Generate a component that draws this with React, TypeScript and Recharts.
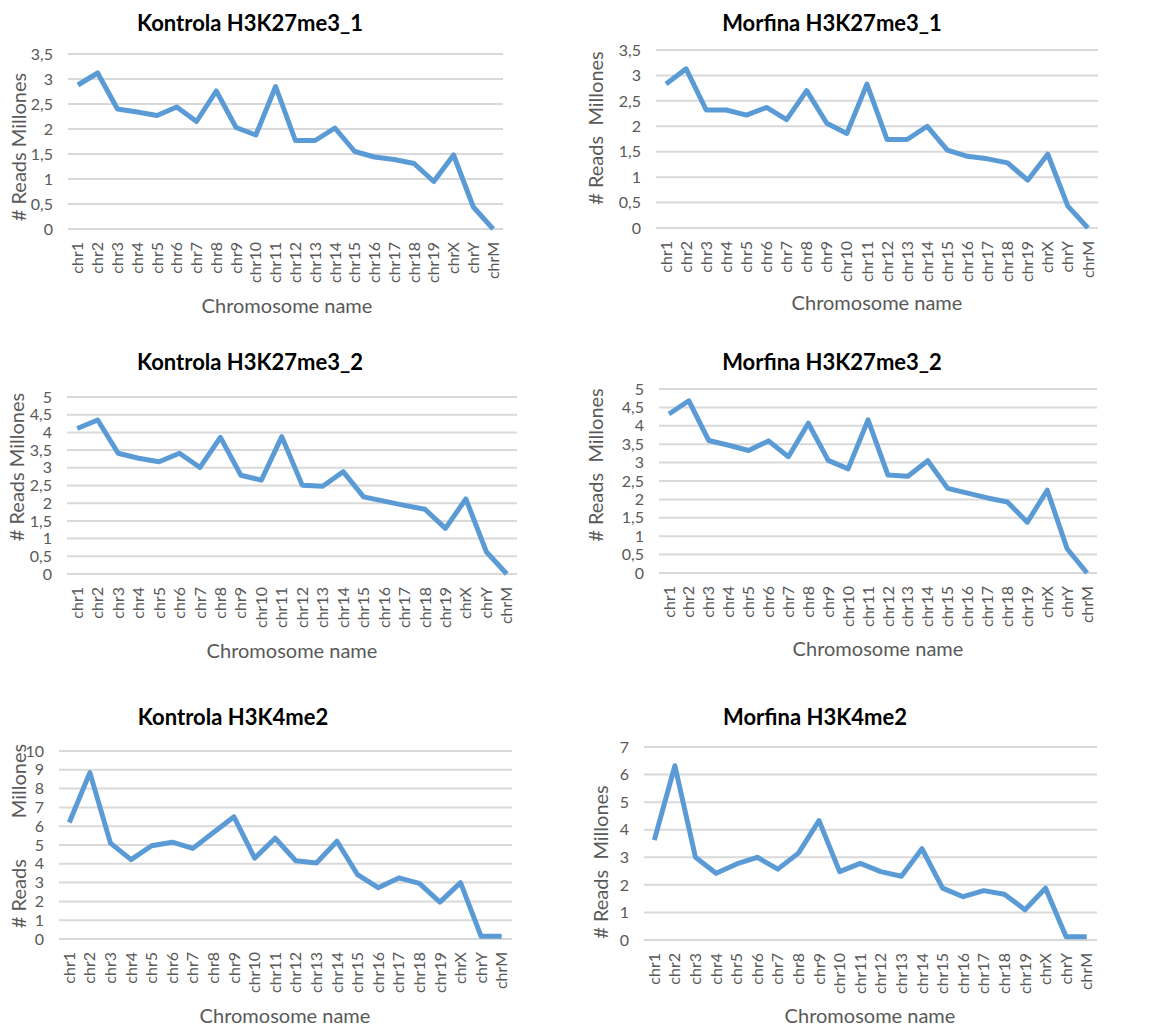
import { LineChart, Line, XAxis, YAxis, CartesianGrid } from "recharts";

const CHROMOSOMES = [
  "chr1", "chr2", "chr3", "chr4", "chr5", "chr6", "chr7", "chr8", "chr9", "chr10", "chr11",
  "chr12", "chr13", "chr14", "chr15", "chr16", "chr17", "chr18", "chr19", "chrX", "chrY", "chrM",
];

// millions of reads per chromosome
const KONTROLA_K27_1 = [
  2.88, 3.12, 2.4, 2.34, 2.27, 2.44, 2.15, 2.76, 2.03, 1.88, 2.85,
  1.77, 1.77, 2.02, 1.55, 1.44, 1.39, 1.31, 0.95, 1.48, 0.44, 0,
];
const MORFINA_K27_1 = [
  2.83, 3.13, 2.32, 2.32, 2.22, 2.37, 2.13, 2.7, 2.06, 1.86, 2.83,
  1.74, 1.74, 2.0, 1.53, 1.41, 1.36, 1.28, 0.94, 1.45, 0.43, 0,
];
const KONTROLA_K27_2 = [
  4.11, 4.35, 3.41, 3.27, 3.17, 3.41, 3.01, 3.86, 2.79, 2.65, 3.88,
  2.51, 2.48, 2.89, 2.18, 2.06, 1.94, 1.83, 1.29, 2.12, 0.63, 0,
];
const MORFINA_K27_2 = [
  4.32, 4.68, 3.6, 3.47, 3.33, 3.59, 3.16, 4.07, 3.06, 2.83, 4.16,
  2.66, 2.63, 3.05, 2.3, 2.17, 2.04, 1.93, 1.38, 2.25, 0.66, 0,
];
const KONTROLA_K4 = [
  6.2, 8.85, 5.1, 4.22, 4.96, 5.15, 4.82, 5.66, 6.5, 4.3, 5.36,
  4.16, 4.04, 5.2, 3.42, 2.73, 3.25, 2.96, 1.96, 3.0, 0.14, 0.14,
];
const MORFINA_K4 = [
  3.62, 6.32, 3.0, 2.42, 2.76, 3.0, 2.57, 3.15, 4.33, 2.48, 2.78,
  2.48, 2.31, 3.31, 1.88, 1.57, 1.79, 1.66, 1.1, 1.88, 0.12, 0.12,
];

const TICKS_3_5 = [0, 0.5, 1, 1.5, 2, 2.5, 3, 3.5];
const TICKS_5 = [0, 0.5, 1, 1.5, 2, 2.5, 3, 3.5, 4, 4.5, 5];
const TICKS_10 = [0, 1, 2, 3, 4, 5, 6, 7, 8, 9, 10];
const TICKS_7 = [0, 1, 2, 3, 4, 5, 6, 7];

const BLUE = "#5b9bd5";
const GRID = "#d9d9d9";
const GREY = "#595959";
const FONT = "Lato, 'Open Sans', sans-serif";

type Layout = {
  left: number;
  top: number;
  width: number;
  height: number;
  plot: [number, number, number, number]; // left, top, right, bottom
  title: [number, number];
  xTitle: [number, number];
  yTitle: [number, number];
};

type PanelProps = {
  title: string;
  yLabel: string;
  values: number[];
  ticks: number[];
  layout: Layout;
};

const PANELS: PanelProps[] = [
  {
    title: "Kontrola H3K27me3_1",
    yLabel: "# Reads Millones",
    values: KONTROLA_K27_1,
    ticks: TICKS_3_5,
    layout: {
      left: 0, top: 0, width: 575, height: 335,
      plot: [68, 54, 503, 229],
      title: [250, 23], xTitle: [287, 305], yTitle: [18, 147],
    },
  },
  {
    title: "Morfina H3K27me3_1",
    yLabel: "# Reads  Millones",
    values: MORFINA_K27_1,
    ticks: TICKS_3_5,
    layout: {
      left: 575, top: 0, width: 578, height: 335,
      plot: [656, 50, 1098, 228],
      title: [832, 23], xTitle: [877, 302], yTitle: [595, 128],
    },
  },
  {
    title: "Kontrola H3K27me3_2",
    yLabel: "# Reads Millones",
    values: KONTROLA_K27_2,
    ticks: TICKS_5,
    layout: {
      left: 0, top: 340, width: 575, height: 340,
      plot: [67, 397, 517, 574],
      title: [250, 362], xTitle: [292, 650], yTitle: [16, 467],
    },
  },
  {
    title: "Morfina H3K27me3_2",
    yLabel: "# Reads  Millones",
    values: MORFINA_K27_2,
    ticks: TICKS_5,
    layout: {
      left: 575, top: 340, width: 578, height: 340,
      plot: [659, 389, 1097, 573],
      title: [832, 362], xTitle: [878, 648], yTitle: [595, 465],
    },
  },
  {
    title: "Kontrola H3K4me2",
    yLabel: "# Reads        Millones",
    values: KONTROLA_K4,
    ticks: TICKS_10,
    layout: {
      left: 0, top: 690, width: 575, height: 335,
      plot: [59, 751, 512, 939],
      title: [233, 717], xTitle: [285, 1015], yTitle: [18, 836],
    },
  },
  {
    title: "Morfina H3K4me2",
    yLabel: "# Reads  Millones",
    values: MORFINA_K4,
    ticks: TICKS_7,
    layout: {
      left: 575, top: 690, width: 578, height: 335,
      plot: [644, 747, 1097, 940],
      title: [815, 717], xTitle: [870, 1015], yTitle: [600, 862],
    },
  },
];

function ChrTick({ x, y, payload }: { x?: number; y?: number; payload?: { value: string } }) {
  const tx = x ?? 0;
  const ty = (y ?? 0) + 13;
  return (
    <text
      x={tx}
      y={ty}
      dy="0.35em"
      transform={`rotate(-90 ${tx} ${ty})`}
      textAnchor="end"
      fill={GREY}
      fontSize={16}
      fontFamily={FONT}
    >
      {payload?.value}
    </text>
  );
}

function Panel({ title, yLabel, values, ticks, layout }: PanelProps) {
  const data = CHROMOSOMES.map((name, i) => ({ name, value: values[i] }));
  const [pl, pt, pr, pb] = layout.plot;
  const band = (pr - pl) / CHROMOSOMES.length;

  return (
    <>
      <div style={{ position: "absolute", left: layout.left, top: layout.top }}>
        <LineChart
          width={layout.width}
          height={layout.height}
          data={data}
          margin={{ top: pt - layout.top, right: layout.left + layout.width - pr, left: 0, bottom: 0 }}
        >
          <CartesianGrid stroke={GRID} strokeWidth={2} vertical={false} />
          <XAxis
            dataKey="name"
            interval={0}
            padding={{ left: band / 2, right: band / 2 }}
            height={layout.top + layout.height - pb}
            axisLine={false}
            tickLine={false}
            tickSize={0}
            tickMargin={0}
            tick={<ChrTick />}
          />
          <YAxis
            width={pl - layout.left}
            domain={[0, ticks[ticks.length - 1]]}
            ticks={ticks}
            interval={0}
            axisLine={false}
            tickLine={false}
            tickSize={0}
            tickMargin={15}
            tick={{ fill: GREY, fontSize: 16, fontFamily: FONT }}
            tickFormatter={(v) => String(v).replace(".", ",")}
          />
          <Line
            dataKey="value"
            type="linear"
            stroke={BLUE}
            strokeWidth={5}
            strokeLinejoin="round"
            dot={false}
            isAnimationActive={false}
          />
        </LineChart>
      </div>
      <div
        style={{
          position: "absolute",
          left: layout.title[0] - 250,
          top: layout.title[1] - 15,
          width: 500,
          height: 30,
          lineHeight: "30px",
          textAlign: "center",
          fontFamily: FONT,
          fontWeight: 700,
          fontSize: 22,
          color: "#000",
        }}
      >
        {title}
      </div>
      <div
        style={{
          position: "absolute",
          left: layout.xTitle[0] - 200,
          top: layout.xTitle[1] - 13,
          width: 400,
          height: 26,
          lineHeight: "26px",
          textAlign: "center",
          fontFamily: FONT,
          fontSize: 20,
          color: GREY,
        }}
      >
        Chromosome name
      </div>
      <div
        style={{
          position: "absolute",
          left: layout.yTitle[0] - 150,
          top: layout.yTitle[1] - 13,
          width: 300,
          height: 26,
          lineHeight: "26px",
          textAlign: "center",
          fontFamily: FONT,
          fontSize: 20,
          color: GREY,
          whiteSpace: "pre",
          transform: "rotate(-90deg)",
        }}
      >
        {yLabel}
      </div>
    </>
  );
}

export default function App() {
  return (
    <div style={{ position: "absolute", left: 0, top: 0, width: 1153, height: 1025, background: "#fff" }}>
      {PANELS.map((p) => (
        <Panel key={p.title} {...p} />
      ))}
    </div>
  );
}
